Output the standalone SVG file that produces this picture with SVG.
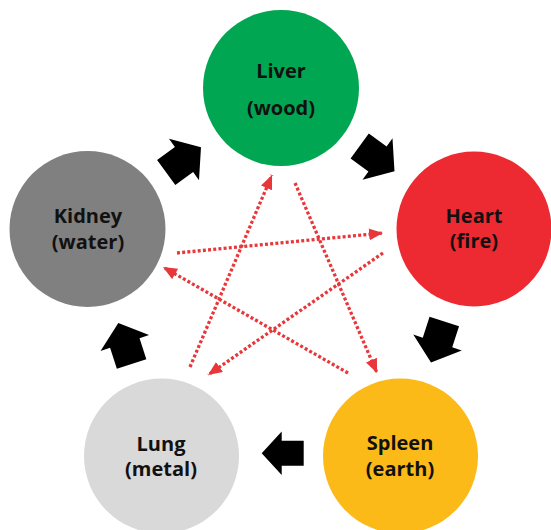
<svg xmlns="http://www.w3.org/2000/svg" width="551" height="530" viewBox="0 0 551 530">
  <style>
    .lbl { font-family: "Open Sans", "Liberation Sans", sans-serif; font-weight: 700; font-size: 20px; fill: #111111; text-anchor: middle; }
    .flow { fill: #000; }
    .ctrl { fill: none; stroke: #E8373A; stroke-width: 3.3; stroke-dasharray: 3 2.2; marker-end: url(#ah); }
  </style>
  <defs>
    <marker id="ah" markerUnits="userSpaceOnUse" markerWidth="15" markerHeight="12" refX="14" refY="6" orient="auto">
      <path d="M0,0 L14,6 L0,12 Z" fill="#E8373A"/>
    </marker>
    <path id="barrow" d="M-22,-15.5 H0 V-25.5 L21,0 L0,25.5 V15.5 H-22 Z"/>
  </defs>
  <rect width="551" height="530" fill="#ffffff"/>

  <g id="liver">
    <circle cx="281" cy="88" r="78" fill="#00A651"/>
    <text class="lbl" x="281" y="78">Liver</text>
    <text class="lbl" x="281" y="115">(wood)</text>
  </g>
  <g id="heart">
    <circle cx="474" cy="229" r="77.5" fill="#ED2A31"/>
    <text class="lbl" x="474" y="223">Heart</text>
    <text class="lbl" x="474" y="248">(fire)</text>
  </g>
  <g id="spleen">
    <circle cx="400.5" cy="456" r="77.5" fill="#FBBA18"/>
    <text class="lbl" x="400" y="450">Spleen</text>
    <text class="lbl" x="400" y="476">(earth)</text>
  </g>
  <g id="lung">
    <circle cx="161.5" cy="456" r="77.5" fill="#D9D9D9"/>
    <text class="lbl" x="161" y="451">Lung</text>
    <text class="lbl" x="161" y="476">(metal)</text>
  </g>
  <g id="kidney">
    <circle cx="87.5" cy="229" r="78" fill="#808080"/>
    <text class="lbl" x="88" y="223">Kidney</text>
    <text class="lbl" x="88" y="249">(water)</text>
  </g>

  <g id="connectors">
    <use href="#barrow" class="flow" transform="translate(184,159.5) rotate(-36)"/>
    <use href="#barrow" class="flow" transform="translate(377.5,159) rotate(36)"/>
    <use href="#barrow" class="flow" transform="translate(437.5,342.5) rotate(108)"/>
    <path class="flow" d="M-22,-12.5 H0 V-21.7 L20,0 L0,21.7 V12.5 H-22 Z" transform="translate(281.7,453.3) rotate(180)"/>
    <use href="#barrow" class="flow" transform="translate(124.8,343) rotate(-108)"/>

    <path class="ctrl" d="M190,367 L272,175"/>
    <path class="ctrl" d="M295,183 L377,373"/>
    <path class="ctrl" d="M177,253 L383,233"/>
    <path class="ctrl" d="M383,253 L208,375"/>
    <path class="ctrl" d="M348,373 L163,267"/>
  </g>
</svg>
